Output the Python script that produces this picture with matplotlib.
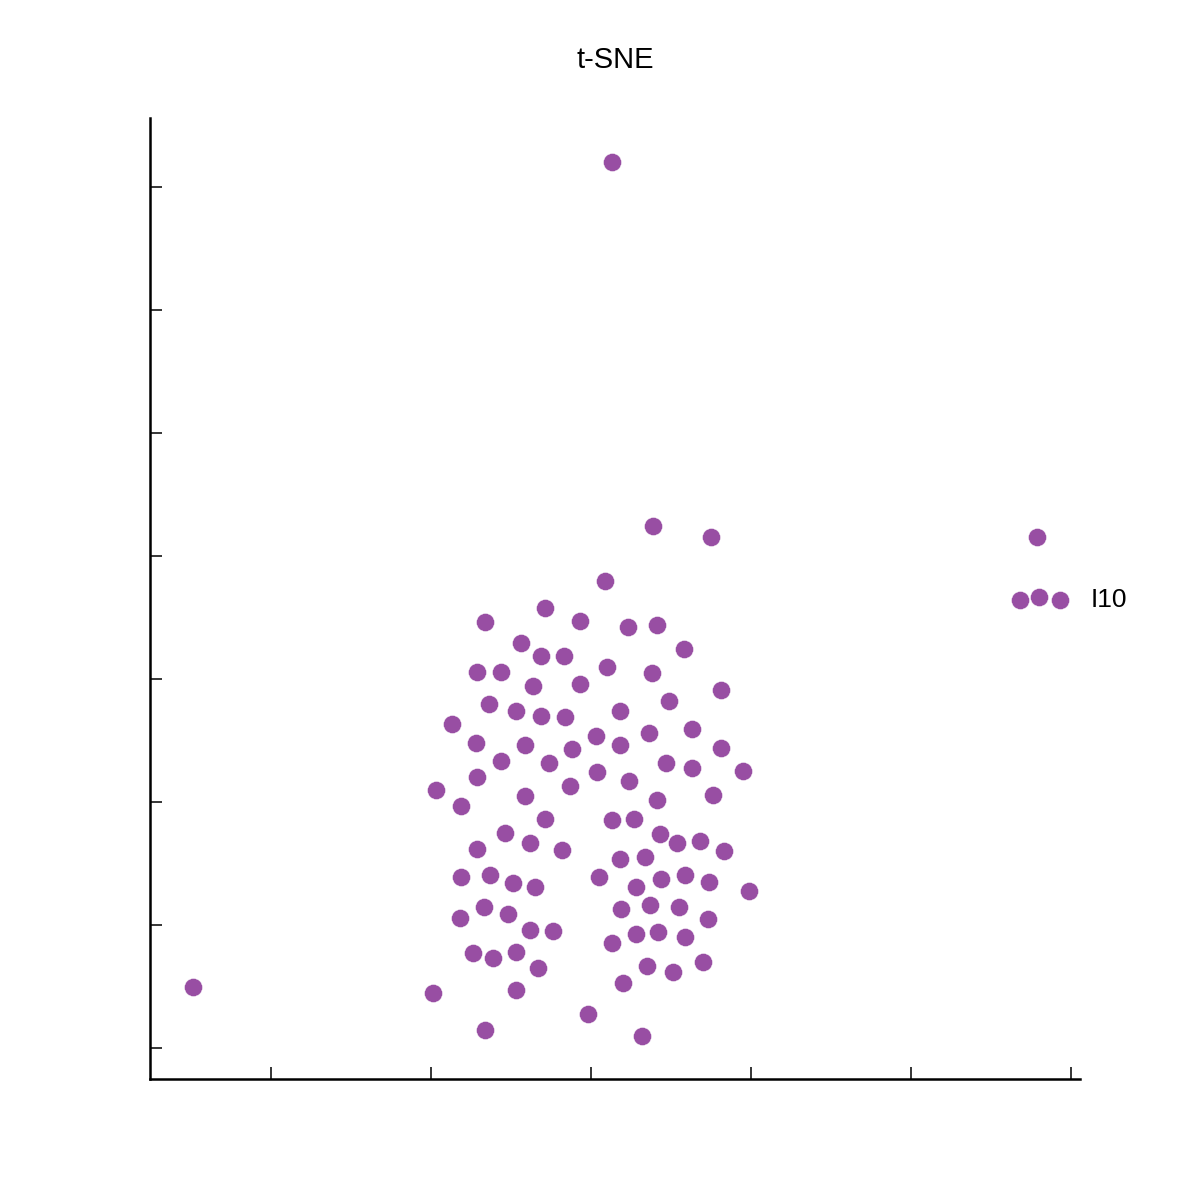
import matplotlib
matplotlib.use('Agg')
import matplotlib.pyplot as plt

plt.rcParams['font.family'] = ['Liberation Sans', 'DejaVu Sans']

# t-SNE embedding (arbitrary units)
tsne_x = [21.3, 23.9, 27.5, 47.9, 46.8, 48.0, 49.3, -4.9, 10.1, 20.9,
          17.1, 13.4, 19.3, 22.3, 24.1, 15.6, 16.9, 18.3, 25.8, 12.9,
          14.4, 21.0, 23.8, 16.4, 19.3, 28.1, 24.9, 13.6, 15.3, 16.9,
          18.4, 21.8, 11.3, 23.6, 26.3, 20.3, 12.8, 15.9, 21.8, 18.8,
          28.1, 14.4, 17.4, 24.7, 26.3, 29.5, 20.4, 12.9, 22.4, 18.7,
          10.3, 15.9, 24.1, 27.6, 11.9, 17.1, 21.3, 22.7, 14.6, 24.3,
          16.2, 25.4, 26.8, 12.9, 18.2, 28.3, 21.8, 23.4, 11.9, 13.7,
          20.5, 15.1, 16.5, 22.8, 24.4, 25.9, 27.4, 29.9, 13.3, 21.9,
          23.7, 25.5, 11.8, 14.8, 27.3, 16.2, 17.6, 22.8, 24.2, 25.9,
          21.3, 12.6, 13.9, 15.3, 27.0, 16.7, 23.5, 25.1, 22.0, 15.3,
          19.8, 13.4, 23.2]
tsne_y = [72.0, 42.4, 41.5, 41.5, 36.4, 36.7, 36.4, 5.0, 4.5, 38.0,
          35.8, 34.6, 34.7, 34.2, 34.4, 32.9, 31.9, 31.9, 32.4, 30.6,
          30.6, 31.0, 30.5, 29.4, 29.6, 29.1, 28.2, 28.0, 27.4, 27.0,
          26.9, 27.4, 26.3, 25.6, 25.9, 25.4, 24.8, 24.6, 24.6, 24.3,
          24.4, 23.3, 23.2, 23.2, 22.8, 22.5, 22.4, 22.0, 21.7, 21.3,
          21.0, 20.5, 20.2, 20.6, 19.7, 18.6, 18.5, 18.6, 17.5, 17.4,
          16.7, 16.7, 16.8, 16.2, 16.1, 16.0, 15.4, 15.5, 13.9, 14.1,
          13.9, 13.4, 13.1, 13.1, 13.7, 14.1, 13.5, 12.8, 11.5, 11.3,
          11.6, 11.5, 10.6, 10.9, 10.5, 9.6, 9.5, 9.3, 9.4, 9.0,
          8.5, 7.7, 7.3, 7.8, 7.0, 6.5, 6.7, 6.2, 5.3, 4.7,
          2.8, 1.5, 1.0]

label_text = 'I10'
label_idx = 6  # rightmost point of the small group on the right

x_ticks = [0, 10, 20, 30, 40, 50]
y_ticks = [0, 10, 20, 30, 40, 50, 60, 70]

fig = plt.figure(figsize=(12, 12), dpi=100)
ax = fig.add_axes([0.125, 0.1008, 0.775, 0.8009])

ax.scatter(tsne_x, tsne_y, s=168, color='#984ea3', edgecolor='white',
           linewidth=0.3, zorder=3)

ax.annotate(label_text, (tsne_x[label_idx], tsne_y[label_idx]),
            xytext=(22, 0), textcoords='offset points',
            fontsize=19, va='center', ha='left')

ax.set_xlim(-7.56, 50.56)
ax.set_ylim(-2.52, 75.6)
ax.set_xticks(x_ticks)
ax.set_yticks(y_ticks)
ax.set_xticklabels([])
ax.set_yticklabels([])
ax.tick_params(direction='in', length=8.8, width=1.1, color='black')

for side in ['top', 'right']:
    ax.spines[side].set_visible(False)
for side in ['left', 'bottom']:
    ax.spines[side].set_linewidth(1.8)

ax.set_title('t-SNE', fontsize=21, pad=36)

fig.savefig('out.png', dpi=100, facecolor='white')
